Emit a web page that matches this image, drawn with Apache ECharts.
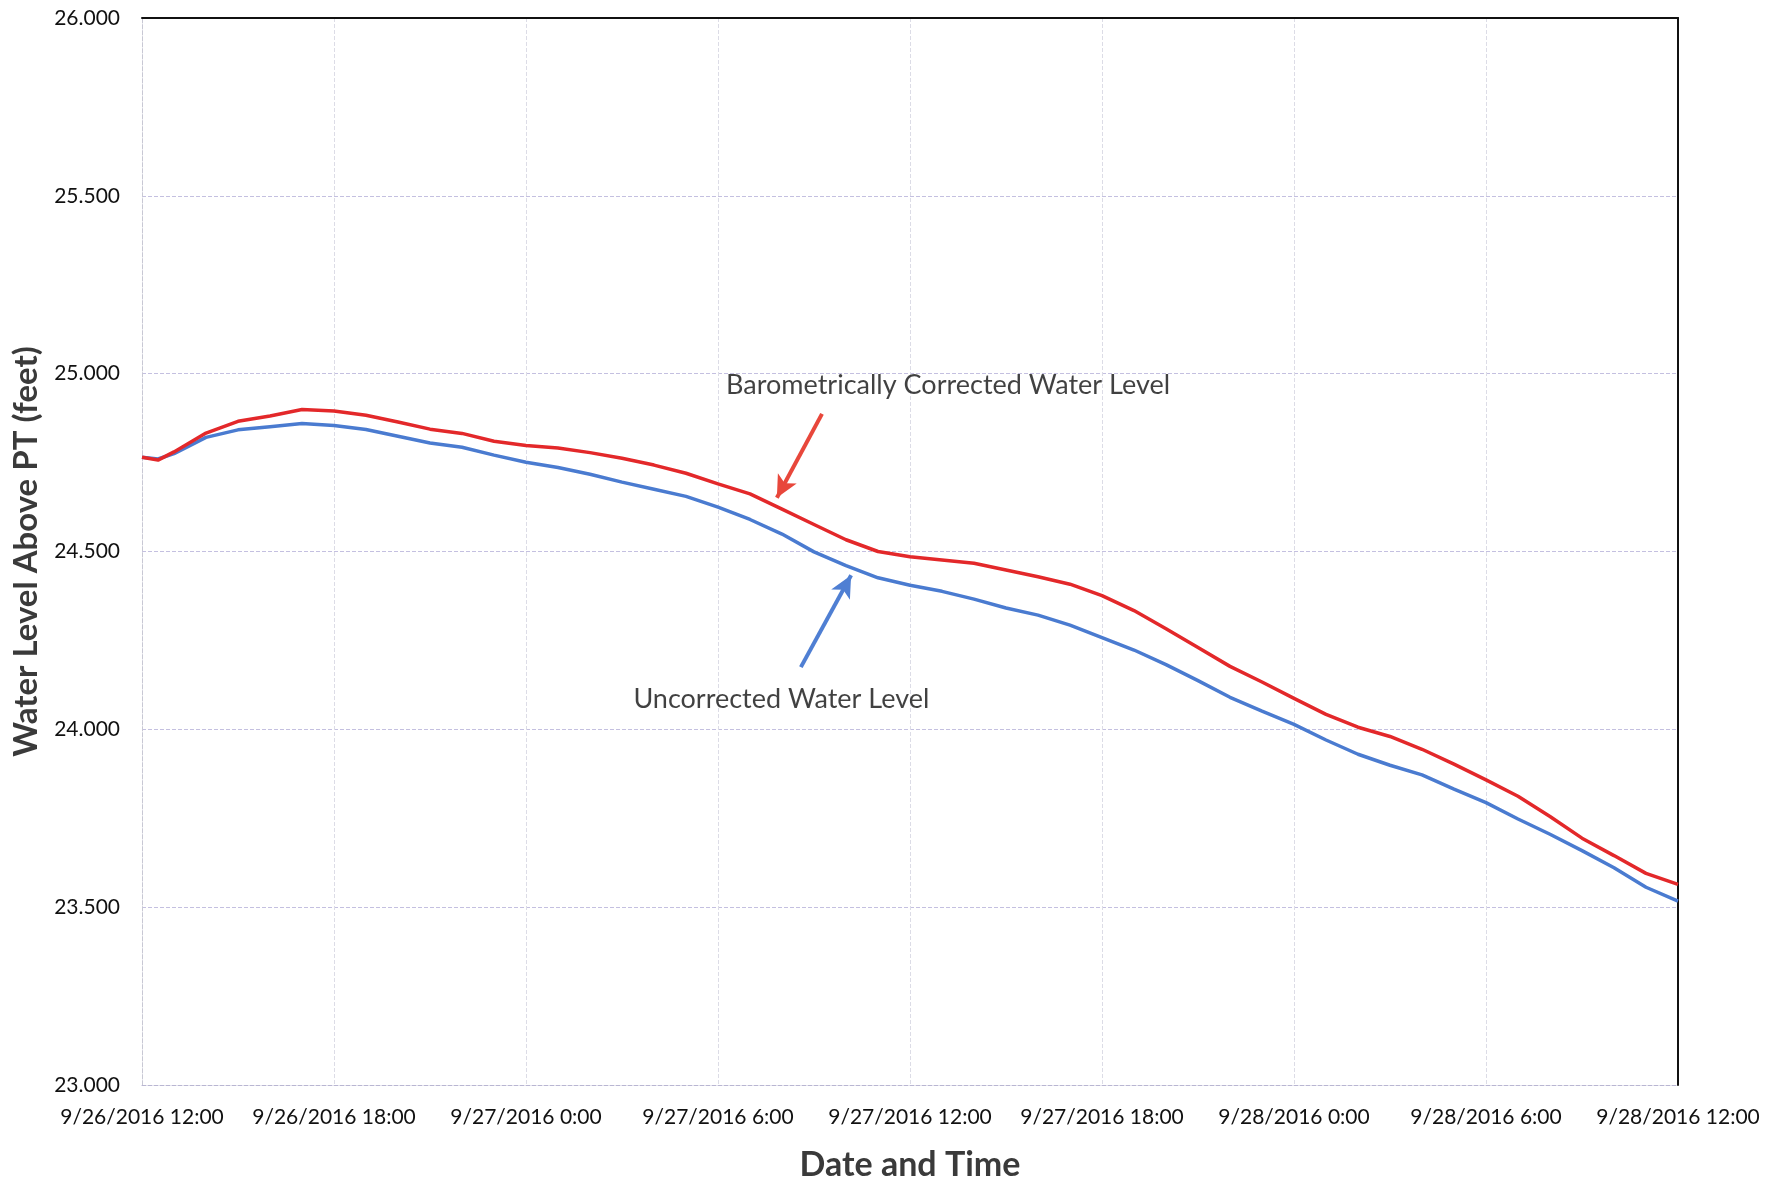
<!DOCTYPE html>
<html>
<head>
<meta charset="utf-8">
<script src="https://cdn.jsdelivr.net/npm/echarts@6/dist/echarts.min.js"></script>
<style>
html,body{margin:0;padding:0;background:#fff;}
#chart{width:1781px;height:1187px;}
</style>
</head>
<body>
<div id="chart"></div>
<script>
// Hours after 9/26/2016 12:00
const hours = [0,0.5,1,2,3,4,5,6,7,8,9,10,11,12,13,14,15,16,17,18,19,20,21,22,23,24,25,26,27,28,29,30,31,32,33,34,35,36,37,38,39,40,41,42,43,44,45,46,47,48];
const corrected = [24.765,24.757,24.780,24.833,24.866,24.881,24.899,24.895,24.883,24.864,24.844,24.832,24.810,24.798,24.791,24.778,24.762,24.743,24.720,24.690,24.662,24.619,24.576,24.533,24.500,24.485,24.476,24.467,24.448,24.429,24.408,24.376,24.334,24.283,24.230,24.177,24.133,24.087,24.042,24.006,23.980,23.944,23.902,23.858,23.812,23.755,23.694,23.645,23.595,23.564];
const uncorrected = [24.765,24.760,24.775,24.821,24.842,24.851,24.860,24.854,24.843,24.824,24.805,24.793,24.771,24.751,24.736,24.717,24.695,24.675,24.655,24.625,24.590,24.549,24.499,24.460,24.426,24.405,24.388,24.366,24.341,24.321,24.293,24.258,24.223,24.182,24.137,24.090,24.051,24.014,23.970,23.930,23.899,23.872,23.832,23.794,23.748,23.705,23.659,23.611,23.556,23.517];
const xTickLabels = ['9/26/2016 12:00','9/26/2016 18:00','9/27/2016 0:00','9/27/2016 6:00','9/27/2016 12:00','9/27/2016 18:00','9/28/2016 0:00','9/28/2016 6:00','9/28/2016 12:00'];
const yTicks = [23.0,23.5,24.0,24.5,25.0,25.5,26.0];
const annotationTexts = ['Barometrically Corrected Water Level','Uncorrected Water Level'];
const annotationPos = [[25.19,24.968],[19.98,24.085]];
const redArrow = [[21.25,24.887],[19.84,24.651]];
const blueArrow = [[20.59,24.175],[22.16,24.433]];

const FONT = 'Lato';
const chart = echarts.init(document.getElementById('chart'), null, {renderer:'canvas'});
const option = {
  animation:false,
  backgroundColor:'#ffffff',
  textStyle:{fontFamily:FONT},
  grid:{left:142,right:103,top:18,bottom:95,containLabel:false},
  xAxis:[{
    type:'value', min:0, max:48, interval:6,
    axisLine:{show:true,onZero:false,lineStyle:{color:'#b9b6d2',width:1,type:'dashed'}},
    axisTick:{show:false},
    axisLabel:{color:'#111',fontSize:21,fontFamily:FONT,margin:22,
      formatter:v=>xTickLabels[Math.round(v/6)]},
    splitLine:{show:true,lineStyle:{color:'#dcdce6',type:'dashed',width:1}},
    name:'Date and Time', nameLocation:'middle', nameGap:63,
    nameTextStyle:{fontSize:34,fontWeight:'bold',color:'#3a3a3a',fontFamily:FONT}
  },{
    type:'value', min:0, max:48, position:'top',
    axisLine:{show:true,onZero:false,lineStyle:{color:'#111',width:2}},
    axisTick:{show:false}, axisLabel:{show:false}, splitLine:{show:false}
  }],
  yAxis:[{
    type:'value', min:yTicks[0], max:yTicks[yTicks.length-1], interval:0.5,
    axisLine:{show:true,onZero:false,lineStyle:{color:'#c8c8d4',width:1,type:'dashed'}},
    axisTick:{show:false},
    axisLabel:{color:'#111',fontSize:21,fontFamily:FONT,margin:22,
      formatter:v=>v.toFixed(3)},
    splitLine:{show:true,lineStyle:{color:'#c4c0e0',type:'dashed',width:1}},
    name:'Water Level Above PT (feet)', nameLocation:'middle', nameGap:97,
    nameTextStyle:{fontSize:33,fontWeight:'bold',color:'#3a3a3a',fontFamily:FONT}
  },{
    type:'value', min:yTicks[0], max:yTicks[yTicks.length-1], position:'right',
    axisLine:{show:true,onZero:false,lineStyle:{color:'#111',width:2}},
    axisTick:{show:false}, axisLabel:{show:false}, splitLine:{show:false}
  }],
  series:[
    {
      name:'Uncorrected Water Level', type:'line', showSymbol:false,
      data:hours.map((h,i)=>[h,uncorrected[i]]),
      lineStyle:{color:'#4a7bd0',width:3.5}, itemStyle:{color:'#4a7bd0'},
      markLine:{
        silent:true, symbol:['none','arrow'], symbolSize:[16,22],
        lineStyle:{color:'#4f7fd3',width:4,type:'solid'},
        label:{show:false},
        data:[[{coord:blueArrow[0]},{coord:blueArrow[1]}]]
      }
    },
    {
      name:'Barometrically Corrected Water Level', type:'line', showSymbol:false,
      data:hours.map((h,i)=>[h,corrected[i]]),
      lineStyle:{color:'#e3282a',width:3.5}, itemStyle:{color:'#e3282a'},
      markLine:{
        silent:true, symbol:['none','arrow'], symbolSize:[16,22],
        lineStyle:{color:'#e8473b',width:4,type:'solid'},
        label:{show:false},
        data:[[{coord:redArrow[0]},{coord:redArrow[1]}]]
      }
    },
    {
      type:'scatter', symbolSize:0, silent:true,
      data:annotationPos.map((p,i)=>({value:p,name:annotationTexts[i]})),
      label:{show:true,position:'inside',formatter:p=>p.name,
        color:'#111',fontSize:27,fontFamily:FONT}
    }
  ]
};
chart.setOption(option);
</script>
</body>
</html>
